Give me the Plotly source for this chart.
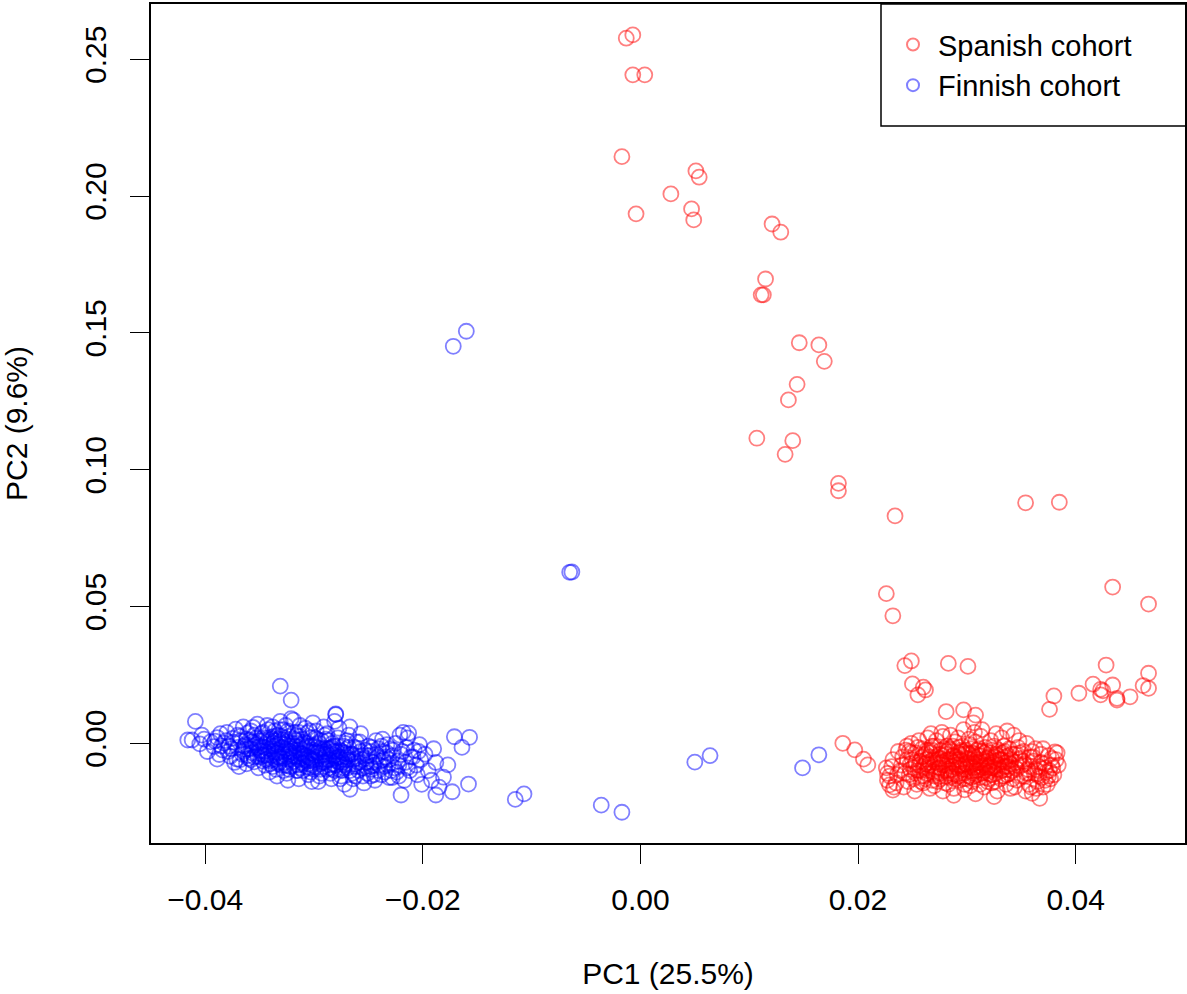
import plotly.graph_objects as go

# ---------------- data (PC1, PC2) ----------------
finnish_core = [
    (-0.0412, 0.0012), (-0.0405, -0.0002), (-0.0401, 0.0015), (-0.0398, -0.0030), (-0.0403, 0.0030), (-0.0395, 0.0005),
    (-0.0392, -0.0012), (-0.0389, 0.0021), (-0.0387, -0.0041), (-0.0391, 0.0008), (-0.0384, -0.0025), (-0.0386, 0.0035),
    (-0.0383, 0.0001), (-0.0389, -0.0058),
    (-0.0380, 0.0040), (-0.0378, -0.0010), (-0.0377, -0.0048), (-0.0375, 0.0018), (-0.0373, -0.0070), (-0.0379, -0.0030),
    (-0.0372, 0.0052), (-0.0370, -0.0015), (-0.0374, 0.0004), (-0.0371, -0.0058),
    (-0.0368, 0.0025), (-0.0366, -0.0040), (-0.0365, 0.0060), (-0.0363, -0.0005), (-0.0362, -0.0075), (-0.0367, 0.0010),
    (-0.0361, 0.0038), (-0.0364, -0.0022), (-0.0360, -0.0055), (-0.0369, -0.0085),
    (-0.0358, 0.0045), (-0.0356, -0.0012), (-0.0355, -0.0068), (-0.0353, 0.0020), (-0.0352, 0.0070), (-0.0357, -0.0035),
    (-0.0351, -0.0090), (-0.0354, 0.0002), (-0.0350, -0.0025), (-0.0359, 0.0012), (-0.0352, -0.0048), (-0.0356, 0.0058),
    (-0.0348, 0.0035), (-0.0346, -0.0015), (-0.0345, -0.0080), (-0.0343, 0.0065), (-0.0342, -0.0040), (-0.0347, 0.0010),
    (-0.0341, -0.0105), (-0.0344, -0.0060), (-0.0340, 0.0022), (-0.0349, -0.0028), (-0.0342, 0.0050), (-0.0345, -0.0005),
    (-0.0340, -0.0075),
    (-0.0338, 0.0060), (-0.0336, -0.0010), (-0.0335, -0.0095), (-0.0333, 0.0030), (-0.0332, -0.0050), (-0.0337, -0.0030),
    (-0.0331, 0.0080), (-0.0334, -0.0120), (-0.0330, -0.0015), (-0.0339, 0.0015), (-0.0332, -0.0070), (-0.0336, 0.0045),
    (-0.0333, -0.0035), (-0.0331, 0.0005), (-0.0338, -0.0085),
    (-0.0328, 0.0050), (-0.0326, -0.0020), (-0.0325, -0.0110), (-0.0323, 0.0025), (-0.0322, -0.0060), (-0.0327, -0.0040),
    (-0.0321, 0.0090), (-0.0324, -0.0135), (-0.0320, 0.0000), (-0.0329, 0.0012), (-0.0322, -0.0085), (-0.0326, 0.0065),
    (-0.0323, -0.0028), (-0.0321, -0.0048), (-0.0328, -0.0100),
    (-0.0318, 0.0040), (-0.0316, -0.0025), (-0.0315, -0.0100), (-0.0313, 0.0065), (-0.0312, -0.0055), (-0.0317, -0.0010),
    (-0.0311, 0.0015), (-0.0314, -0.0130), (-0.0310, -0.0075), (-0.0319, 0.0085), (-0.0312, -0.0038), (-0.0316, 0.0028),
    (-0.0313, -0.0090), (-0.0311, -0.0005), (-0.0318, -0.0065),
    (-0.0308, 0.0055), (-0.0306, -0.0030), (-0.0305, -0.0115), (-0.0303, 0.0020), (-0.0302, -0.0065), (-0.0307, -0.0045),
    (-0.0301, 0.0075), (-0.0304, -0.0090), (-0.0300, -0.0012), (-0.0309, 0.0005), (-0.0302, -0.0140), (-0.0306, 0.0038),
    (-0.0303, -0.0055), (-0.0301, -0.0025),
    (-0.0298, 0.0045), (-0.0296, -0.0035), (-0.0295, -0.0120), (-0.0293, 0.0010), (-0.0292, -0.0070), (-0.0297, -0.0015),
    (-0.0291, 0.0060), (-0.0294, -0.0095), (-0.0290, -0.0050), (-0.0299, 0.0020), (-0.0292, -0.0030), (-0.0296, -0.0140),
    (-0.0290, 0.0030),
    (-0.0288, 0.0035), (-0.0286, -0.0045), (-0.0285, -0.0110), (-0.0283, 0.0000), (-0.0282, -0.0075), (-0.0287, -0.0020),
    (-0.0281, 0.0080), (-0.0284, -0.0130), (-0.0280, -0.0055), (-0.0289, 0.0015), (-0.0282, -0.0030), (-0.0286, -0.0090),
    (-0.0280, 0.0105),
    (-0.0278, 0.0020), (-0.0276, -0.0050), (-0.0275, -0.0120), (-0.0273, -0.0010), (-0.0272, -0.0080), (-0.0277, 0.0055),
    (-0.0271, -0.0035), (-0.0274, -0.0100), (-0.0270, 0.0010), (-0.0279, -0.0065), (-0.0272, -0.0150),
    (-0.0268, 0.0030), (-0.0266, -0.0040), (-0.0265, -0.0110), (-0.0263, -0.0015), (-0.0262, -0.0075), (-0.0267, 0.0060),
    (-0.0261, -0.0055), (-0.0264, -0.0130), (-0.0260, -0.0020), (-0.0269, -0.0090),
    (-0.0258, 0.0005), (-0.0256, -0.0060), (-0.0255, -0.0120), (-0.0253, -0.0025), (-0.0252, -0.0085), (-0.0257, 0.0035),
    (-0.0251, -0.0045), (-0.0254, -0.0145), (-0.0250, -0.0010), (-0.0259, -0.0100),
    (-0.0248, -0.0030), (-0.0246, -0.0070), (-0.0245, -0.0115), (-0.0243, 0.0010), (-0.0242, -0.0050), (-0.0247, -0.0095),
    (-0.0241, -0.0020), (-0.0244, -0.0135), (-0.0240, -0.0080),
    (-0.0238, -0.0010), (-0.0236, -0.0060), (-0.0235, -0.0105), (-0.0233, -0.0035), (-0.0232, -0.0080), (-0.0237, 0.0015),
    (-0.0231, -0.0125), (-0.0234, -0.0050), (-0.0230, -0.0020),
    (-0.0228, -0.0045), (-0.0226, -0.0090), (-0.0225, 0.0000), (-0.0223, -0.0065), (-0.0222, -0.0120), (-0.0227, -0.0025),
    (-0.0221, 0.0030), (-0.0224, -0.0105), (-0.0220, -0.0040),
    (-0.0218, 0.0040), (-0.0216, -0.0070), (-0.0215, -0.0015), (-0.0213, 0.0037), (-0.0212, -0.0100), (-0.0217, -0.0135),
    (-0.0211, -0.0050), (-0.0214, 0.0020),
    (-0.0208, -0.0025), (-0.0206, -0.0080), (-0.0205, -0.0115), (-0.0203, -0.0005), (-0.0202, -0.0060), (-0.0201, -0.0150),
    (-0.0198, -0.0040), (-0.0195, -0.0100), (-0.0192, -0.0135), (-0.0190, -0.0020), (-0.0188, -0.0070), (-0.0185, -0.0160),
]

finnish_dense = [
    (-0.0365, -0.0030), (-0.0362, 0.0015), (-0.0358, -0.0060), (-0.0355, 0.0030), (-0.0352, -0.0015), (-0.0349, -0.0050),
    (-0.0347, 0.0040), (-0.0345, -0.0030), (-0.0343, 0.0005), (-0.0341, -0.0065),
    (-0.0339, -0.0045), (-0.0337, 0.0025), (-0.0335, -0.0060), (-0.0334, -0.0005), (-0.0332, 0.0050), (-0.0330, -0.0080),
    (-0.0329, -0.0030), (-0.0327, 0.0020), (-0.0325, -0.0050), (-0.0324, 0.0045),
    (-0.0322, -0.0010), (-0.0320, -0.0070), (-0.0319, -0.0035), (-0.0317, 0.0010), (-0.0315, -0.0080), (-0.0314, 0.0040),
    (-0.0312, -0.0020), (-0.0310, -0.0100), (-0.0309, -0.0045), (-0.0307, 0.0000),
    (-0.0305, -0.0075), (-0.0304, 0.0045), (-0.0302, -0.0035), (-0.0300, -0.0095), (-0.0299, -0.0060), (-0.0297, 0.0015),
    (-0.0295, -0.0045), (-0.0293, -0.0110), (-0.0291, -0.0020), (-0.0289, -0.0065),
    (-0.0287, 0.0010), (-0.0285, -0.0080), (-0.0283, -0.0040), (-0.0281, -0.0100), (-0.0279, -0.0010), (-0.0277, -0.0070),
    (-0.0275, -0.0030), (-0.0273, -0.0090), (-0.0271, 0.0000), (-0.0269, -0.0060),
    (-0.0267, -0.0100), (-0.0265, -0.0040), (-0.0263, -0.0085), (-0.0261, 0.0005), (-0.0259, -0.0070), (-0.0257, -0.0030),
    (-0.0255, -0.0090), (-0.0253, -0.0055), (-0.0251, -0.0110), (-0.0249, -0.0045),
    (-0.0247, -0.0015), (-0.0245, -0.0080), (-0.0243, -0.0040), (-0.0241, -0.0100), (-0.0239, -0.0065), (-0.0237, -0.0030),
    (-0.0235, -0.0085), (-0.0233, -0.0005), (-0.0231, -0.0060), (-0.0229, -0.0100),
    (-0.0376, -0.0020), (-0.0381, 0.0010), (-0.0385, -0.0010), (-0.0370, 0.0030), (-0.0368, -0.0060), (-0.0360, -0.0020),
    (-0.0357, 0.0005), (-0.0350, 0.0010), (-0.0346, -0.0045), (-0.0340, -0.0020),
    (-0.0336, 0.0010), (-0.0333, -0.0075), (-0.0328, -0.0055), (-0.0326, -0.0005), (-0.0323, -0.0095), (-0.0318, -0.0045),
    (-0.0316, -0.0100), (-0.0313, 0.0025), (-0.0308, -0.0060), (-0.0306, -0.0010),
    (-0.0303, -0.0105), (-0.0298, -0.0030), (-0.0294, -0.0075), (-0.0290, -0.0040), (-0.0288, -0.0095), (-0.0284, -0.0015),
    (-0.0280, -0.0080), (-0.0276, -0.0025), (-0.0272, -0.0060), (-0.0268, -0.0015),
    (-0.0222, -0.0080), (-0.0219, -0.0030), (-0.0214, -0.0090), (-0.0209, -0.0050), (-0.0204, -0.0030), (-0.0228, -0.0125),
    (-0.0238, -0.0115), (-0.0248, -0.0120), (-0.0262, -0.0120), (-0.0276, -0.0130),
]

finnish_center = [
    (-0.0349, -0.0010), (-0.0347, -0.0065), (-0.0344, 0.0020), (-0.0342, -0.0020), (-0.0339, -0.0060), (-0.0337, 0.0000),
    (-0.0335, -0.0035), (-0.0333, 0.0015), (-0.0331, -0.0055), (-0.0329, -0.0015),
    (-0.0327, -0.0070), (-0.0325, 0.0005), (-0.0323, -0.0040), (-0.0321, -0.0020), (-0.0319, -0.0080), (-0.0317, -0.0050),
    (-0.0315, 0.0000), (-0.0313, -0.0035), (-0.0311, -0.0070), (-0.0309, -0.0020),
    (-0.0307, -0.0085), (-0.0305, -0.0050), (-0.0303, -0.0010), (-0.0301, -0.0060), (-0.0299, -0.0085), (-0.0297, -0.0035),
    (-0.0295, 0.0000), (-0.0293, -0.0060), (-0.0291, -0.0085), (-0.0289, -0.0030),
    (-0.0287, -0.0060), (-0.0285, -0.0020), (-0.0283, -0.0095), (-0.0281, -0.0045), (-0.0279, -0.0030), (-0.0277, -0.0095),
    (-0.0275, -0.0060), (-0.0273, -0.0035), (-0.0271, -0.0075), (-0.0269, -0.0040),
    (-0.0348, -0.0040), (-0.0343, -0.0045), (-0.0338, -0.0010), (-0.0334, -0.0050), (-0.0330, 0.0025), (-0.0326, -0.0080),
    (-0.0322, -0.0030), (-0.0318, 0.0015), (-0.0314, -0.0060), (-0.0310, -0.0040),
    (-0.0306, -0.0065), (-0.0302, -0.0080), (-0.0298, -0.0050), (-0.0294, -0.0020), (-0.0290, -0.0070), (-0.0286, -0.0060),
    (-0.0282, -0.0010), (-0.0278, -0.0050), (-0.0274, -0.0070), (-0.0270, -0.0050),
    (-0.0364, -0.0010), (-0.0361, -0.0045), (-0.0358, -0.0020), (-0.0355, -0.0050), (-0.0353, -0.0005), (-0.0264, -0.0060),
    (-0.0260, -0.0085), (-0.0256, -0.0045), (-0.0252, -0.0070), (-0.0248, -0.0085),
]

finnish_outliers = [
    (-0.0172, 0.1451), (-0.0160, 0.1506), (-0.0065, 0.0625), (-0.0063, 0.0626),
    (-0.0331, 0.0209), (-0.0321, 0.0158), (-0.0409, 0.0080), (-0.0416, 0.0012), (-0.0280, 0.0107),
    (-0.0171, 0.0024), (-0.0157, 0.0022), (-0.0164, -0.0015), (-0.0115, -0.0205), (-0.0107, -0.0185),
    (-0.0158, -0.0149), (-0.0173, -0.0177), (-0.0188, -0.0189), (-0.0181, -0.0124), (-0.0177, -0.0079),
    (-0.0220, -0.0189), (-0.0267, -0.0168), (-0.0036, -0.0226), (-0.0017, -0.0252),
    (0.0050, -0.0069), (0.0064, -0.0045), (0.0149, -0.0090), (0.0164, -0.0042),
]

spanish_core = [
    (0.0226, -0.0090), (0.0229, -0.0120), (0.0232, -0.0060), (0.0235, -0.0145), (0.0237, -0.0030), (0.0239, -0.0100),
    (0.0233, -0.0160),
    (0.0241, -0.0050), (0.0243, -0.0110), (0.0245, -0.0010), (0.0246, -0.0140), (0.0248, -0.0075), (0.0249, 0.0000),
    (0.0242, -0.0160), (0.0247, -0.0030),
    (0.0251, -0.0090), (0.0253, -0.0035), (0.0254, -0.0150), (0.0256, 0.0010), (0.0257, -0.0065), (0.0258, -0.0120),
    (0.0252, -0.0175), (0.0259, -0.0020), (0.0255, -0.0100),
    (0.0261, -0.0045), (0.0262, -0.0130), (0.0264, 0.0020), (0.0265, -0.0080), (0.0266, -0.0165), (0.0268, -0.0010),
    (0.0269, -0.0105), (0.0263, -0.0060), (0.0267, 0.0035), (0.0260, -0.0145), (0.0265, -0.0025),
    (0.0271, -0.0070), (0.0272, 0.0010), (0.0273, -0.0140), (0.0275, -0.0040), (0.0276, -0.0110), (0.0277, 0.0040),
    (0.0278, -0.0175), (0.0279, -0.0020), (0.0274, -0.0090), (0.0270, -0.0155), (0.0276, -0.0055), (0.0278, 0.0025),
    (0.0281, -0.0080), (0.0282, -0.0010), (0.0283, -0.0150), (0.0285, 0.0030), (0.0286, -0.0120), (0.0287, -0.0045),
    (0.0288, -0.0190), (0.0289, 0.0005), (0.0284, -0.0100), (0.0280, -0.0065), (0.0286, -0.0030), (0.0288, -0.0165),
    (0.0291, -0.0060), (0.0292, 0.0020), (0.0293, -0.0135), (0.0295, -0.0025), (0.0296, -0.0095), (0.0297, 0.0050),
    (0.0298, -0.0170), (0.0299, -0.0075), (0.0294, -0.0040), (0.0290, -0.0115), (0.0296, -0.0010), (0.0298, -0.0150),
    (0.0301, -0.0085), (0.0302, 0.0015), (0.0303, -0.0155), (0.0305, -0.0035), (0.0306, -0.0110), (0.0307, 0.0040),
    (0.0308, -0.0185), (0.0309, -0.0060), (0.0304, -0.0020), (0.0300, -0.0130), (0.0306, -0.0075), (0.0308, 0.0005),
    (0.0311, -0.0045), (0.0312, -0.0125), (0.0313, 0.0025), (0.0315, -0.0090), (0.0316, -0.0160), (0.0317, -0.0015),
    (0.0318, -0.0065), (0.0319, -0.0140), (0.0314, 0.0050), (0.0310, -0.0100), (0.0316, -0.0035),
    (0.0321, -0.0080), (0.0322, 0.0010), (0.0323, -0.0145), (0.0325, -0.0050), (0.0326, -0.0110), (0.0327, 0.0035),
    (0.0328, -0.0175), (0.0329, -0.0025), (0.0324, -0.0090), (0.0320, -0.0130),
    (0.0331, -0.0060), (0.0332, 0.0020), (0.0333, -0.0120), (0.0335, -0.0030), (0.0336, -0.0150), (0.0337, 0.0045),
    (0.0338, -0.0085), (0.0334, -0.0010), (0.0339, -0.0110),
    (0.0341, -0.0040), (0.0342, -0.0100), (0.0343, 0.0030), (0.0345, -0.0070), (0.0346, -0.0135), (0.0347, -0.0015),
    (0.0348, 0.0010), (0.0344, -0.0160), (0.0349, -0.0055),
    (0.0351, -0.0080), (0.0352, -0.0030), (0.0353, -0.0120), (0.0355, 0.0000), (0.0356, -0.0095), (0.0357, -0.0150),
    (0.0358, -0.0050), (0.0354, -0.0175),
    (0.0361, -0.0065), (0.0362, -0.0110), (0.0363, -0.0020), (0.0365, -0.0140), (0.0366, -0.0085), (0.0368, -0.0040),
    (0.0369, -0.0125), (0.0364, -0.0165),
    (0.0371, -0.0075), (0.0373, -0.0105), (0.0375, -0.0045), (0.0377, -0.0130), (0.0379, -0.0090), (0.0382, -0.0060),
    (0.0380, -0.0115), (0.0374, -0.0150),
]

spanish_dense = [
    (0.0245, -0.0060), (0.0247, -0.0115), (0.0249, -0.0035), (0.0251, -0.0130), (0.0253, -0.0070), (0.0255, -0.0015),
    (0.0257, -0.0100), (0.0259, -0.0050), (0.0261, -0.0120), (0.0263, -0.0025),
    (0.0264, -0.0090), (0.0266, -0.0050), (0.0268, -0.0135), (0.0270, -0.0010), (0.0271, -0.0095), (0.0273, -0.0060),
    (0.0275, -0.0120), (0.0276, -0.0025), (0.0278, -0.0080), (0.0280, -0.0145),
    (0.0281, -0.0040), (0.0283, -0.0110), (0.0284, -0.0060), (0.0286, -0.0085), (0.0287, -0.0010), (0.0289, -0.0130),
    (0.0290, -0.0050), (0.0291, -0.0090), (0.0293, -0.0015), (0.0294, -0.0110),
    (0.0295, -0.0065), (0.0297, -0.0130), (0.0298, -0.0040), (0.0299, -0.0095), (0.0300, -0.0055), (0.0302, -0.0120),
    (0.0303, -0.0005), (0.0304, -0.0080), (0.0305, -0.0140), (0.0307, -0.0050),
    (0.0308, -0.0100), (0.0309, -0.0025), (0.0310, -0.0070), (0.0312, -0.0150), (0.0313, -0.0045), (0.0314, -0.0110),
    (0.0315, -0.0060), (0.0317, -0.0125), (0.0318, -0.0030), (0.0319, -0.0090),
    (0.0320, -0.0050), (0.0322, -0.0115), (0.0323, -0.0025), (0.0324, -0.0070), (0.0326, -0.0140), (0.0327, -0.0040),
    (0.0328, -0.0095), (0.0330, -0.0060), (0.0331, -0.0130), (0.0333, -0.0035),
    (0.0334, -0.0085), (0.0336, -0.0050), (0.0337, -0.0115), (0.0339, -0.0020), (0.0340, -0.0075), (0.0342, -0.0130),
    (0.0344, -0.0040), (0.0346, -0.0095), (0.0348, -0.0060), (0.0350, -0.0120),
    (0.0352, -0.0065), (0.0355, -0.0110), (0.0358, -0.0085), (0.0360, -0.0030), (0.0363, -0.0095), (0.0366, -0.0120),
    (0.0370, -0.0020), (0.0372, -0.0135), (0.0376, -0.0100), (0.0378, -0.0055),
    (0.0262, -0.0075), (0.0267, -0.0035), (0.0272, -0.0110), (0.0277, -0.0070), (0.0282, -0.0030), (0.0285, -0.0125),
    (0.0288, -0.0070), (0.0292, -0.0035), (0.0296, -0.0080), (0.0301, -0.0035),
    (0.0305, -0.0100), (0.0309, -0.0085), (0.0311, -0.0020), (0.0316, -0.0080), (0.0321, -0.0100), (0.0325, -0.0010),
    (0.0329, -0.0080), (0.0332, -0.0100), (0.0335, -0.0070), (0.0338, -0.0045),
    (0.0240, -0.0080), (0.0236, -0.0115), (0.0231, -0.0085), (0.0227, -0.0135), (0.0244, -0.0025), (0.0384, -0.0080),
    (0.0383, -0.0035), (0.0370, -0.0160), (0.0359, -0.0160), (0.0340, -0.0165),
]

spanish_center = [
    (0.0260, -0.0085), (0.0262, -0.0040), (0.0264, -0.0110), (0.0266, -0.0070), (0.0268, -0.0025), (0.0270, -0.0120),
    (0.0272, -0.0050), (0.0274, -0.0075), (0.0276, -0.0130), (0.0278, -0.0045),
    (0.0280, -0.0100), (0.0282, -0.0060), (0.0284, -0.0020), (0.0286, -0.0110), (0.0288, -0.0045), (0.0290, -0.0080),
    (0.0292, -0.0120), (0.0294, -0.0060), (0.0296, -0.0030), (0.0298, -0.0110),
    (0.0300, -0.0070), (0.0302, -0.0040), (0.0304, -0.0125), (0.0306, -0.0090), (0.0308, -0.0040), (0.0310, -0.0115),
    (0.0312, -0.0070), (0.0314, -0.0030), (0.0316, -0.0100), (0.0318, -0.0055),
    (0.0320, -0.0085), (0.0322, -0.0035), (0.0324, -0.0115), (0.0326, -0.0065), (0.0328, -0.0045), (0.0330, -0.0095),
    (0.0332, -0.0060), (0.0334, -0.0120), (0.0336, -0.0085), (0.0338, -0.0065),
    (0.0263, -0.0100), (0.0269, -0.0060), (0.0275, -0.0090), (0.0281, -0.0120), (0.0287, -0.0095), (0.0293, -0.0080),
    (0.0299, -0.0025), (0.0303, -0.0060), (0.0307, -0.0120), (0.0313, -0.0085),
    (0.0319, -0.0110), (0.0325, -0.0085), (0.0331, -0.0040), (0.0337, -0.0095), (0.0341, -0.0060), (0.0345, -0.0090),
    (0.0349, -0.0035), (0.0353, -0.0075), (0.0357, -0.0110), (0.0361, -0.0050),
    (0.0253, -0.0110), (0.0250, -0.0060), (0.0256, -0.0080), (0.0258, -0.0140), (0.0248, -0.0095), (0.0365, -0.0100),
    (0.0368, -0.0070), (0.0372, -0.0090), (0.0375, -0.0120), (0.0378, -0.0080),
]

spanish_outliers = [
    (-0.0013, 0.2577), (-0.0007, 0.2589), (-0.0007, 0.2443), (0.0004, 0.2443), (-0.0017, 0.2144),
    (0.0051, 0.2092), (0.0054, 0.2069), (0.0028, 0.2008), (-0.0004, 0.1935), (0.0047, 0.1953),
    (0.0049, 0.1913), (0.0121, 0.1898), (0.0129, 0.1868), (0.0115, 0.1697), (0.0113, 0.1639),
    (0.0111, 0.1639), (0.0146, 0.1464), (0.0164, 0.1456), (0.0169, 0.1396), (0.0144, 0.1312),
    (0.0136, 0.1255), (0.0107, 0.1115), (0.0140, 0.1106), (0.0133, 0.1056), (0.0182, 0.0950),
    (0.0182, 0.0923), (0.0234, 0.0831), (0.0354, 0.0879), (0.0385, 0.0881), (0.0226, 0.0547),
    (0.0232, 0.0466), (0.0434, 0.0571), (0.0467, 0.0509),
    (0.0243, 0.0284), (0.0249, 0.0301), (0.0283, 0.0292), (0.0301, 0.0281), (0.0250, 0.0217),
    (0.0260, 0.0205), (0.0262, 0.0195), (0.0255, 0.0177), (0.0281, 0.0116), (0.0297, 0.0122),
    (0.0308, 0.0103), (0.0306, 0.0075), (0.0428, 0.0286), (0.0380, 0.0173), (0.0376, 0.0124),
    (0.0403, 0.0183), (0.0416, 0.0216), (0.0423, 0.0197), (0.0423, 0.0177), (0.0425, 0.0192),
    (0.0434, 0.0213), (0.0438, 0.0164), (0.0438, 0.0158), (0.0450, 0.0170), (0.0462, 0.0211),
    (0.0467, 0.0201), (0.0467, 0.0256),
    (0.0186, 0.0000), (0.0197, -0.0024), (0.0205, -0.0058), (0.0209, -0.0079), (0.0227, -0.0110),
    (0.0229, -0.0152), (0.0232, -0.0171), (0.0325, -0.0195), (0.0367, -0.0201), (0.0360, -0.0183),
    (0.0381, -0.0031),
]

series_names = ["Spanish cohort", "Finnish cohort"]
x_ticks = [-0.04, -0.02, 0.00, 0.02, 0.04]
y_ticks = [0.00, 0.05, 0.10, 0.15, 0.20, 0.25]
x_title = "PC1 (25.5%)"
y_title = "PC2 (9.6%)"

# ---------------- figure ----------------
FONT = "Liberation Sans, Arial, Helvetica, sans-serif"
FS = 30
RED = "rgba(255,0,0,0.5)"
BLUE = "rgba(0,0,255,0.5)"

spanish = spanish_core + spanish_dense + spanish_center + spanish_outliers
finnish = finnish_core + finnish_dense + finnish_center + finnish_outliers

fig = go.Figure()
fig.add_trace(go.Scatter(
    x=[p[0] for p in spanish], y=[p[1] for p in spanish],
    mode="markers", name=series_names[0],
    marker=dict(symbol="circle-open", size=15, color=RED, line=dict(width=1.8, color=RED)),
))
fig.add_trace(go.Scatter(
    x=[p[0] for p in finnish], y=[p[1] for p in finnish],
    mode="markers", name=series_names[1],
    marker=dict(symbol="circle-open", size=15, color=BLUE, line=dict(width=1.8, color=BLUE)),
))

axis_common = dict(
    showline=True, mirror=True, linecolor="black", linewidth=1.5,
    ticks="outside", ticklen=19, tickwidth=1.3, tickcolor="black",
    showgrid=False, zeroline=False,
    tickfont=dict(family=FONT, size=FS, color="black"),
    title_font=dict(family=FONT, size=FS, color="black"),
)

fig.update_xaxes(
    range=[-0.04498, 0.05005], tickvals=x_ticks, tickformat=".2f",
    title_text=x_title, title_standoff=48, ticklabelstandoff=10, **axis_common,
)
fig.update_yaxes(
    range=[-0.03644, 0.2702], tickvals=y_ticks, tickformat=".2f", tickangle=-90,
    title_text=y_title, title_standoff=44, ticklabelstandoff=12, **axis_common,
)

# legend border (as in R's legend box)
fig.add_shape(type="rect", xref="paper", yref="paper",
              x0=(881 - 151) / 1034, x1=1.01, y0=(843 - 126) / 839, y1=1.0,
              line=dict(color="black", width=1.5), fillcolor="rgba(0,0,0,0)")

fig.update_layout(
    width=1187, height=994,
    margin=dict(l=151, r=2, t=4, b=151, autoexpand=False),
    paper_bgcolor="white", plot_bgcolor="white",
    font=dict(family=FONT, size=FS, color="black"),
    showlegend=True,
    legend=dict(x=(888 - 151) / 1034, y=0.982, xanchor="left", yanchor="top",
                bgcolor="rgba(0,0,0,0)", borderwidth=0,
                font=dict(family=FONT, size=29, color="black"),
                itemsizing="constant", itemwidth=40),
)

fig.write_html("out.html", config={"displayModeBar": False},
               post_script="document.body.style.margin='0';")
